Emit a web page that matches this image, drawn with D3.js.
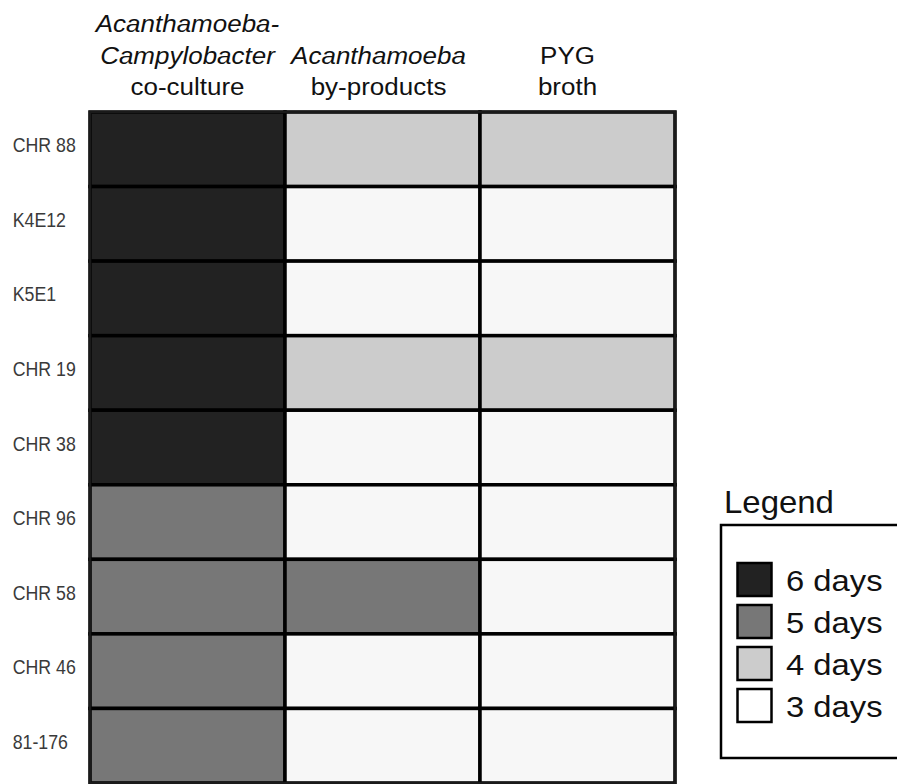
<!DOCTYPE html>
<html><head><meta charset="utf-8">
<script src="https://cdn.jsdelivr.net/npm/d3@7/dist/d3.min.js"></script>
<style>body{margin:0;background:#fff}svg{display:block}</style>
</head><body>
<svg id="c" width="897" height="784"></svg>
<script>
const strains = ["CHR 88","K4E12","K5E1","CHR 19","CHR 38","CHR 96","CHR 58","CHR 46","81-176"];
const conditions = ["coculture","byproducts","pyg"];
const headerLines = [
  [{t:"Acanthamoeba-",i:true},{t:"Campylobacter",i:true},{t:"co-culture",i:false}],
  [{t:"Acanthamoeba",i:true},{t:"by-products",i:false}],
  [{t:"PYG",i:false},{t:"broth",i:false}]
];
const cocultureDays  = [6,6,6,6,6,5,5,5,5];
const byproductsDays = [4,3,3,4,3,3,5,3,3];
const pygDays        = [4,3,3,4,3,3,3,3,3];
const legendDays = [6,5,4,3];
const legendLabels = ["6 days","5 days","4 days","3 days"];

const svg = d3.select("#c");
const font = "Arial, 'Liberation Sans', sans-serif";
const x = d3.scaleBand().domain(conditions).range([90,675]).padding(0);
const y = d3.scaleBand().domain(strains).range([112,783]).padding(0);
const color = d3.scaleOrdinal().domain([6,5,4,3]).range(["#222222","#777777","#cccccc","#f7f7f7"]);

const cells = [];
const series = [cocultureDays, byproductsDays, pygDays];
conditions.forEach((c,ci)=>strains.forEach((s,si)=>cells.push({c,s,v:series[ci][si]})));

svg.append("g").selectAll("rect").data(cells).join("rect")
  .attr("x",d=>x(d.c)).attr("y",d=>y(d.s))
  .attr("width",x.bandwidth()).attr("height",y.bandwidth())
  .attr("fill",d=>color(d.v))
  .attr("stroke","#000").attr("stroke-width",3.5);

// outer border
svg.append("rect").attr("x",90).attr("y",112).attr("width",585).attr("height",671)
  .attr("fill","none").attr("stroke","#1a1a1a").attr("stroke-width",2.5);

// helper for horizontally stretched text
function stext(parent, tx, ty, sx, txt, size, opts={}){
  const t = parent.append("g").attr("transform",`translate(${tx},${ty}) scale(${sx},1)`)
    .append("text").attr("x",0).attr("y",0)
    .attr("font-family",font).attr("font-size",size)
    .attr("fill",opts.fill||"#111")
    .attr("text-anchor",opts.anchor||"start")
    .attr("font-style",opts.italic?"italic":"normal")
    .text(txt);
  return t;
}

// row labels
const rl = svg.append("g");
strains.forEach(s=>{
  stext(rl, 12.7, y(s)+y.bandwidth()/2+3, 0.91, s, 19.5, {fill:"#3a3a3a"});
});

// headers
const hdrOffset = [0,-4,-10];
const g = svg.append("g");
headerLines.forEach((lines,ci)=>{
  const cx = x(conditions[ci])+x.bandwidth()/2 + hdrOffset[ci];
  const n = lines.length;
  lines.forEach((ln,li)=>{
    const baseline = 95 - (n-1-li)*31.5;
    stext(g, cx, baseline, 1.13, ln.t, 23, {anchor:"middle", italic:ln.i});
  });
});

// legend
const lg = svg.append("g");
stext(lg, 724, 513, 1.03, "Legend", 32);
lg.append("rect").attr("x",721).attr("y",525).attr("width",190).attr("height",233)
  .attr("fill","#fff").attr("stroke","#000").attr("stroke-width",2.5);
const ly = d3.scaleBand().domain(legendDays).range([562,730]).padding(0);
lg.selectAll("rect.sw").data(legendDays).join("rect").attr("class","sw")
  .attr("x",737.5).attr("y",d=>ly(d)+1).attr("width",34).attr("height",33)
  .attr("fill",d=>d===3?"#ffffff":color(d)).attr("stroke","#000").attr("stroke-width",2.5);
legendDays.forEach((d,i)=>{
  stext(lg, 786, ly(d)+28.5, 1.13, legendLabels[i], 29);
});
</script>
</body></html>
